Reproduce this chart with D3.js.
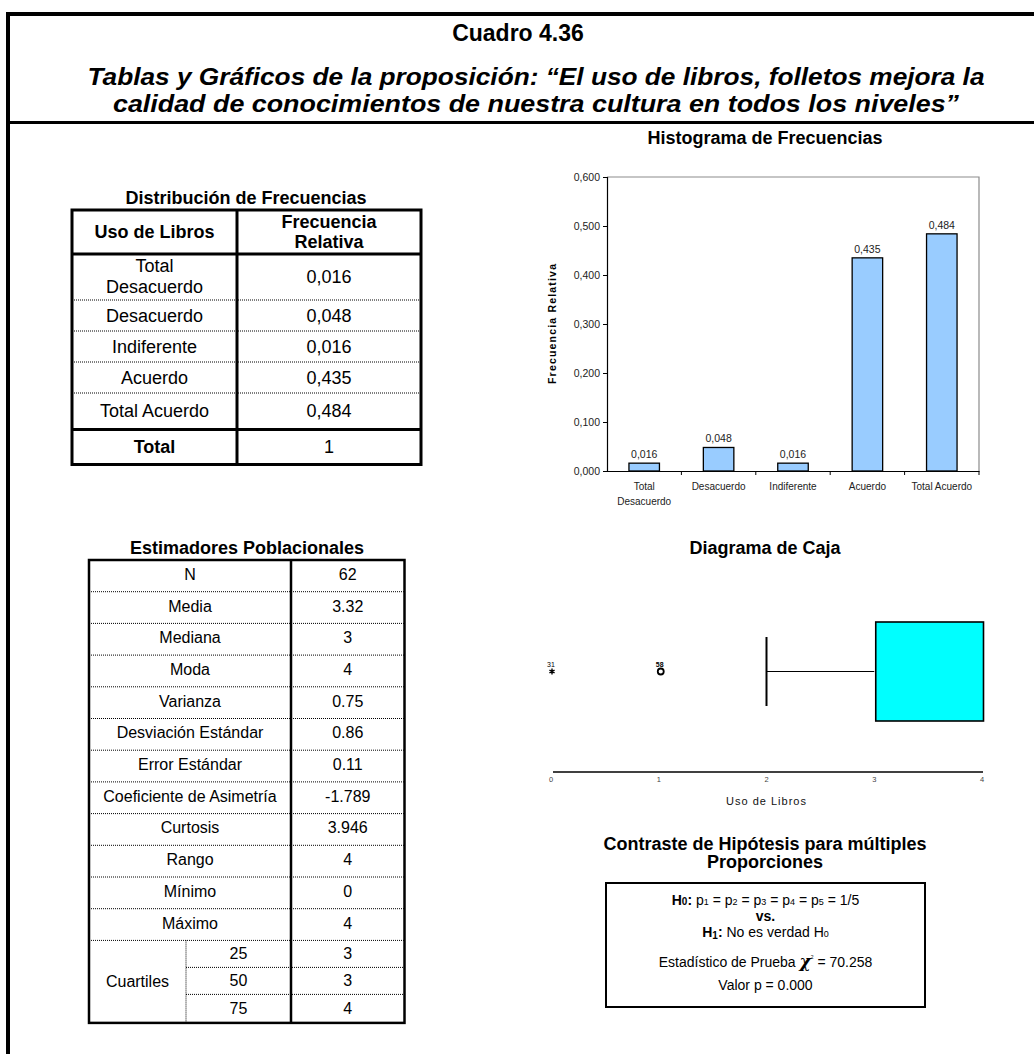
<!DOCTYPE html>
<html>
<head>
<meta charset="utf-8">
<script src="https://cdn.jsdelivr.net/npm/d3@7"></script>
<style>
body { margin: 0; background: #fff; }
svg { display: block; font-family: "Liberation Sans", Arial, sans-serif; }
</style>
</head>
<body>
<div id="chart"></div>
<script>
// ---- data ----
var categories = ["Total Desacuerdo", "Desacuerdo", "Indiferente", "Acuerdo", "Total Acuerdo"];
var freqRel = [0.016, 0.048, 0.016, 0.435, 0.484];
var freqTotal = 1;
var yTicks = [0, 0.1, 0.2, 0.3, 0.4, 0.5, 0.6];

var estNames = ["N", "Media", "Mediana", "Moda", "Varianza", "Desviación Estándar", "Error Estándar",
    "Coeficiente de Asimetría", "Curtosis", "Rango", "Mínimo", "Máximo"];
var estValues = ["62", "3.32", "3", "4", "0.75", "0.86", "0.11", "-1.789", "3.946", "4", "0", "4"];
var quartileNames = ["25", "50", "75"];
var quartileValues = ["3", "3", "4"];

var boxTicks = [0, 1, 2, 3, 4];
var boxWhiskerLow = 2, boxQ1 = 3, boxQ3 = 4;
var outlierValues = [0, 1];
var outlierIds = ["31", "58"];
var outlierKinds = ["extreme", "outlier"];

var chiSquare = "70.258";
var pValue = "0.000";

var width = 1034, height = 1054;
var fmt = d3.formatLocale({decimal: ",", thousands: ".", grouping: [3], currency: ["", ""]}).format(".3f");

var svg = d3.select("#chart").append("svg")
    .attr("width", width)
    .attr("height", height);

svg.append("rect").attr("width", width).attr("height", height).attr("fill", "#fff");

// ---- frame ----
svg.append("line").attr("x1", 6).attr("x2", width).attr("y1", 14).attr("y2", 14)
    .attr("stroke", "#000").attr("stroke-width", 4);
svg.append("line").attr("x1", 8).attr("x2", 8).attr("y1", 12).attr("y2", height)
    .attr("stroke", "#000").attr("stroke-width", 4);
svg.append("line").attr("x1", 6).attr("x2", width).attr("y1", 122.5).attr("y2", 122.5)
    .attr("stroke", "#000").attr("stroke-width", 3);

svg.append("text").attr("x", 518).attr("y", 41)
    .attr("text-anchor", "middle").style("font-size", "23px").style("font-weight", "bold")
    .text("Cuadro 4.36");
var subtitle = ["Tablas y Gráficos de la proposición: “El uso de libros, folletos mejora la",
    "calidad de conocimientos de nuestra cultura en todos los niveles”"];
var subtitleLen = [897, 846];
svg.selectAll(".subtitle").data(subtitle).enter().append("text")
    .attr("class", "subtitle")
    .attr("x", 536)
    .attr("y", function (d, i) { return 85 + i * 27; })
    .attr("text-anchor", "middle")
    .attr("textLength", function (d, i) { return subtitleLen[i]; })
    .attr("lengthAdjust", "spacingAndGlyphs")
    .style("font-size", "24px").style("font-weight", "bold").style("font-style", "italic")
    .text(function (d) { return d; });

// ---- helper for section titles ----
function sectionTitle(lines, cx, y0) {
    lines.forEach(function (t, i) {
        svg.append("text").attr("x", cx).attr("y", y0 + i * 18)
            .attr("text-anchor", "middle")
            .style("font-size", "18px").style("font-weight", "bold")
            .text(t);
    });
}

// ---- Distribución de Frecuencias table ----
sectionTitle(["Distribución de Frecuencias"], 246, 204);
var ft = {left: 72, right: 421, mid: 237, top: 210, head: 44};
var ftRowH = [46, 31, 31, 31, 36.5];
var ftTotalH = 35;
var ftY = [ft.top + ft.head];
ftRowH.forEach(function (h, i) { ftY.push(ftY[i] + h); });
var ftBottom = ftY[ftY.length - 1] + ftTotalH;

var ftg = svg.append("g").style("font-size", "18px");
// header
ftg.append("text").attr("x", (ft.left + ft.mid) / 2).attr("y", ft.top + ft.head / 2 + 6)
    .attr("text-anchor", "middle").style("font-weight", "bold").text("Uso de Libros");
var hdr = ftg.append("text").attr("text-anchor", "middle").style("font-weight", "bold")
    .attr("y", ft.top + 18);
hdr.append("tspan").attr("x", (ft.mid + ft.right) / 2).text("Frecuencia");
hdr.append("tspan").attr("x", (ft.mid + ft.right) / 2).attr("dy", 20).text("Relativa");

// rows
ftg.selectAll(".frow").data(categories).enter().append("text")
    .attr("class", "frow")
    .attr("text-anchor", "middle")
    .each(function (d, i) {
        var cy = (ftY[i] + ftY[i + 1]) / 2;
        var el = d3.select(this);
        if (i === 0) {
            var w = d.split(" ");
            el.attr("y", cy - 5);
            el.append("tspan").attr("x", (ft.left + ft.mid) / 2).text(w[0]);
            el.append("tspan").attr("x", (ft.left + ft.mid) / 2).attr("dy", 21).text(w[1]);
        } else {
            el.attr("x", (ft.left + ft.mid) / 2).attr("y", cy + 6).text(d);
        }
    });
ftg.selectAll(".fval").data(freqRel).enter().append("text")
    .attr("class", "fval")
    .attr("text-anchor", "middle")
    .attr("x", (ft.mid + ft.right) / 2)
    .attr("y", function (d, i) { return (ftY[i] + ftY[i + 1]) / 2 + 6; })
    .text(function (d) { return fmt(d); });
var lastY = ftY[ftY.length - 1];
ftg.append("text").attr("x", (ft.left + ft.mid) / 2).attr("y", (lastY + ftBottom) / 2 + 6)
    .attr("text-anchor", "middle").style("font-weight", "bold").text("Total");
ftg.append("text").attr("x", (ft.mid + ft.right) / 2).attr("y", (lastY + ftBottom) / 2 + 6)
    .attr("text-anchor", "middle").text(freqTotal);

// dotted separators
ftg.selectAll(".fdot").data(ftY.slice(1, ftY.length - 1)).enter().append("line")
    .attr("x1", ft.left).attr("x2", ft.right)
    .attr("y1", function (d) { return d; }).attr("y2", function (d) { return d; })
    .attr("stroke", "#000").attr("stroke-width", 1).attr("stroke-dasharray", "1,1");
// solid lines
[ft.top + ft.head, lastY].forEach(function (yy) {
    ftg.append("line").attr("x1", ft.left).attr("x2", ft.right).attr("y1", yy).attr("y2", yy)
        .attr("stroke", "#000").attr("stroke-width", 3);
});
ftg.append("line").attr("x1", ft.mid).attr("x2", ft.mid).attr("y1", ft.top).attr("y2", ftBottom)
    .attr("stroke", "#000").attr("stroke-width", 3);
ftg.append("rect").attr("x", ft.left).attr("y", ft.top)
    .attr("width", ft.right - ft.left).attr("height", ftBottom - ft.top)
    .attr("fill", "none").attr("stroke", "#000").attr("stroke-width", 3);

// ---- Histograma de Frecuencias ----
sectionTitle(["Histograma de Frecuencias"], 765, 144);
var hm = {left: 607, right: 979, top: 177, bottom: 471};
var x = d3.scaleBand().domain(categories).range([hm.left, hm.right])
    .paddingInner(0.59).paddingOuter(0.295);
var y = d3.scaleLinear().domain([0, 0.6]).range([hm.bottom, hm.top]);

var hg = svg.append("g");
// plot frame (gray top/right)
hg.append("path")
    .attr("d", "M" + hm.left + "," + hm.top + "H" + hm.right + "V" + hm.bottom)
    .attr("fill", "none").attr("stroke", "#8c8c8c").attr("stroke-width", 1.2);

hg.selectAll(".bar").data(categories).enter().append("rect")
    .attr("class", "bar")
    .attr("x", function (d) { return x(d); })
    .attr("width", x.bandwidth())
    .attr("y", function (d, i) { return y(freqRel[i]); })
    .attr("height", function (d, i) { return y(0) - y(freqRel[i]); })
    .attr("fill", "#99ccff")
    .attr("stroke", "#000").attr("stroke-width", 1.3);

hg.selectAll(".blab").data(categories).enter().append("text")
    .attr("class", "blab")
    .attr("x", function (d) { return x(d) + x.bandwidth() / 2; })
    .attr("y", function (d, i) { return y(freqRel[i]) - 5; })
    .attr("text-anchor", "middle")
    .style("font-size", "10.5px").attr("fill", "#222")
    .text(function (d, i) { return fmt(freqRel[i]); });

var yAxis = hg.append("g").attr("transform", "translate(" + hm.left + ",0)")
    .call(d3.axisLeft(y).tickValues(yTicks).tickFormat(fmt).tickSize(4).tickPadding(3));
yAxis.select(".domain").attr("stroke-width", 1.2);
yAxis.selectAll("text").style("font-size", "10.5px").attr("fill", "#222")
    .style("font-family", "\"Liberation Sans\", Arial, sans-serif");

var xAxis = hg.append("g").attr("transform", "translate(0," + hm.bottom + ")")
    .call(d3.axisBottom(x).tickSize(0).tickPadding(14).tickFormat(""));
xAxis.select(".domain").attr("stroke-width", 1.2);
// category boundary ticks
var step = x.step();
hg.selectAll(".xtick").data(categories).enter().append("line")
    .attr("x1", function (d) { return x(d) + x.bandwidth() / 2 + step / 2; })
    .attr("x2", function (d) { return x(d) + x.bandwidth() / 2 + step / 2; })
    .attr("y1", hm.bottom).attr("y2", hm.bottom + 4)
    .attr("stroke", "#000");
hg.selectAll(".xlab").data(categories).enter().append("text")
    .attr("class", "xlab")
    .attr("text-anchor", "middle")
    .style("font-size", "10px").attr("fill", "#222")
    .attr("y", hm.bottom + 19)
    .each(function (d) {
        var el = d3.select(this);
        var cx = x(d) + x.bandwidth() / 2;
        if (d === "Total Desacuerdo") {
            el.append("tspan").attr("x", cx).text("Total");
            el.append("tspan").attr("x", cx).attr("dy", 15).text("Desacuerdo");
        } else {
            el.attr("x", cx).text(d);
        }
    });
hg.append("text")
    .attr("transform", "translate(556," + ((hm.top + hm.bottom) / 2) + ") rotate(-90)")
    .attr("text-anchor", "middle")
    .attr("textLength", 120).attr("lengthAdjust", "spacing")
    .style("font-size", "10.5px").style("font-weight", "bold")
    .text("Frecuencia Relativa");

// ---- Estimadores Poblacionales table ----
sectionTitle(["Estimadores Poblacionales"], 247, 554);
var et = {left: 89, right: 404.5, mid: 291, inner: 186, top: 560, rowH: 31.7};
var qRowH = [27, 27, 28.5];
var etRowsY = estNames.map(function (d, i) { return et.top + i * et.rowH; });
var qTop = et.top + estNames.length * et.rowH;
var qY = [qTop];
qRowH.forEach(function (h, i) { qY.push(qY[i] + h); });
var etBottom = qY[qY.length - 1];

var etg = svg.append("g").style("font-size", "16px");
etg.selectAll(".ename").data(estNames).enter().append("text")
    .attr("text-anchor", "middle")
    .attr("x", (et.left + et.mid) / 2)
    .attr("y", function (d, i) { return etRowsY[i] + et.rowH / 2 + 4; })
    .text(function (d) { return d; });
etg.selectAll(".eval").data(estValues).enter().append("text")
    .attr("text-anchor", "middle")
    .attr("x", (et.mid + et.right) / 2)
    .attr("y", function (d, i) { return etRowsY[i] + et.rowH / 2 + 4; })
    .text(function (d) { return d; });
etg.append("text").attr("text-anchor", "middle")
    .attr("x", (et.left + et.inner) / 2).attr("y", (qTop + etBottom) / 2 + 5.5)
    .text("Cuartiles");
etg.selectAll(".qname").data(quartileNames).enter().append("text")
    .attr("text-anchor", "middle")
    .attr("x", (et.inner + et.mid) / 2)
    .attr("y", function (d, i) { return (qY[i] + qY[i + 1]) / 2 + 5; })
    .text(function (d) { return d; });
etg.selectAll(".qval").data(quartileValues).enter().append("text")
    .attr("text-anchor", "middle")
    .attr("x", (et.mid + et.right) / 2)
    .attr("y", function (d, i) { return (qY[i] + qY[i + 1]) / 2 + 5; })
    .text(function (d) { return d; });

etg.selectAll(".edot").data(etRowsY.slice(1).concat([qTop])).enter().append("line")
    .attr("x1", et.left).attr("x2", et.right)
    .attr("y1", function (d) { return d; }).attr("y2", function (d) { return d; })
    .attr("stroke", "#000").attr("stroke-dasharray", "1,1");
etg.selectAll(".qdot").data(qY.slice(1, qY.length - 1)).enter().append("line")
    .attr("x1", et.inner).attr("x2", et.right)
    .attr("y1", function (d) { return d; }).attr("y2", function (d) { return d; })
    .attr("stroke", "#000").attr("stroke-dasharray", "1,1");
etg.append("line").attr("x1", et.inner).attr("x2", et.inner).attr("y1", qTop).attr("y2", etBottom)
    .attr("stroke", "#000").attr("stroke-dasharray", "1,1");
etg.append("line").attr("x1", et.mid).attr("x2", et.mid).attr("y1", et.top).attr("y2", etBottom)
    .attr("stroke", "#000").attr("stroke-width", 2.5);
etg.append("rect").attr("x", et.left).attr("y", et.top)
    .attr("width", et.right - et.left).attr("height", etBottom - et.top)
    .attr("fill", "none").attr("stroke", "#000").attr("stroke-width", 2.5);

// ---- Diagrama de Caja ----
sectionTitle(["Diagrama de Caja"], 765, 554);
var bx = d3.scaleLinear().domain([0, 4]).range([551, 982]);
var bcy = 671.5;
var bg = svg.append("g");
bg.append("line").attr("x1", 553).attr("x2", 983).attr("y1", 772).attr("y2", 772)
    .attr("stroke", "#000").attr("stroke-width", 1.5);
bg.selectAll(".btick").data(boxTicks).enter().append("text")
    .attr("x", function (d) { return bx(d); }).attr("y", 782)
    .attr("text-anchor", "middle").style("font-size", "7.5px").attr("fill", "#444")
    .text(function (d) { return d; });
bg.append("text").attr("x", 766).attr("y", 805).attr("text-anchor", "middle")
    .attr("textLength", 80).attr("lengthAdjust", "spacing")
    .style("font-size", "11px").attr("fill", "#111").text("Uso de Libros");

bg.append("line").attr("x1", bx(boxWhiskerLow)).attr("x2", bx(boxWhiskerLow))
    .attr("y1", bcy - 34.5).attr("y2", bcy + 34.5).attr("stroke", "#000").attr("stroke-width", 2);
bg.append("line").attr("x1", bx(boxWhiskerLow)).attr("x2", bx(boxQ1))
    .attr("y1", bcy).attr("y2", bcy).attr("stroke", "#000").attr("stroke-width", 1.2);
bg.append("rect").attr("x", bx(boxQ1) + 1.5).attr("y", bcy - 49.5)
    .attr("width", bx(boxQ3) - bx(boxQ1)).attr("height", 99)
    .attr("fill", "#00ffff").attr("stroke", "#000").attr("stroke-width", 1.6);

bg.selectAll(".outl").data(outlierValues).enter().append("path")
    .attr("transform", function (d) { return "translate(" + (bx(d) + (d === 1 ? 2 : 1)) + "," + bcy + ")"; })
    .attr("d", function (d, i) {
        return outlierKinds[i] === "extreme"
            ? d3.symbol(d3.symbolAsterisk, 24)()
            : d3.symbol(d3.symbolCircle, 28)();
    })
    .attr("fill", function (d, i) { return outlierKinds[i] === "extreme" ? "#000" : "#fff"; })
    .attr("stroke", "#000")
    .attr("stroke-width", function (d, i) { return outlierKinds[i] === "extreme" ? 1.4 : 1.8; });
bg.selectAll(".oid").data(outlierValues).enter().append("text")
    .attr("x", function (d) { return bx(d) + (d === 1 ? 1 : 0); }).attr("y", bcy - 4.5)
    .attr("text-anchor", "middle").style("font-size", "7px")
    .style("font-weight", function (d) { return d === 1 ? "bold" : "normal"; })
    .text(function (d, i) { return outlierIds[i]; });

// ---- Contraste de Hipótesis ----
sectionTitle(["Contraste de Hipótesis para múltiples", "Proporciones"], 765, 850);
var hb = {left: 606, right: 925, top: 883, bottom: 1007};
var hypg = svg.append("g").style("font-size", "14px");
hypg.append("rect").attr("x", hb.left).attr("y", hb.top)
    .attr("width", hb.right - hb.left).attr("height", hb.bottom - hb.top)
    .attr("fill", "none").attr("stroke", "#000").attr("stroke-width", 2);
var cxh = (hb.left + hb.right) / 2;

var l1 = hypg.append("text").attr("x", cxh).attr("y", 905).attr("text-anchor", "middle");
l1.append("tspan").style("font-weight", "bold").text("H");
l1.append("tspan").style("font-weight", "bold").style("font-size", "10px").text("0");
l1.append("tspan").style("font-weight", "bold").text(": ");
[1, 2, 3, 4, 5].forEach(function (k, i) {
    l1.append("tspan").text("p");
    l1.append("tspan").style("font-size", "9px").text(k);
    l1.append("tspan").text(i < 4 ? " = " : " = 1/5");
});
hypg.append("text").attr("x", cxh).attr("y", 921).attr("text-anchor", "middle")
    .style("font-weight", "bold").text("vs.");
var l3 = hypg.append("text").attr("x", cxh).attr("y", 937).attr("text-anchor", "middle");
l3.append("tspan").style("font-weight", "bold").text("H");
l3.append("tspan").style("font-weight", "bold").style("font-size", "10px").attr("dy", 1.5).text("1");
l3.append("tspan").style("font-weight", "bold").attr("dy", -1.5).text(":");
l3.append("tspan").text(" No es verdad H");
l3.append("tspan").style("font-size", "9px").text("0");
var l4 = hypg.append("text").attr("x", cxh).attr("y", 967).attr("text-anchor", "middle");
l4.append("tspan").text("Estadístico de Prueba ");
l4.append("tspan").style("font-weight", "bold").style("font-style", "italic").style("font-size", "17px")
    .style("font-family", "\"DejaVu Serif\", serif").text("χ");
l4.append("tspan").style("font-size", "5px").attr("dy", -8).text("2");
l4.append("tspan").attr("dy", 8).text(" = " + chiSquare);
hypg.append("text").attr("x", cxh).attr("y", 990).attr("text-anchor", "middle")
    .text("Valor p = " + pValue);
</script>
</body>
</html>
